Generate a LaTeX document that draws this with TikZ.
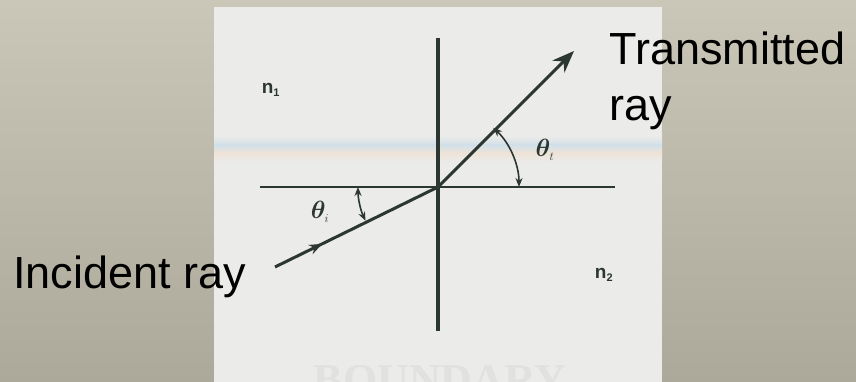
\documentclass[tikz,border=0pt]{standalone}
\usepackage{fontspec}
\setmainfont{Liberation Sans}
\newfontfamily\faintserif{Liberation Serif}
\usepackage{bm}
\usetikzlibrary{arrows.meta,decorations.markings,calc}
\definecolor{bgtop}{HTML}{CAC7B8}
\definecolor{bgbot}{HTML}{ACA99A}
\definecolor{paper}{HTML}{EBEBEA}
\definecolor{ink}{HTML}{2D3731}
\definecolor{faint}{HTML}{E1E1E0}
\definecolor{bandblue}{HTML}{D3E0E8}
\definecolor{bandwarm}{HTML}{EEE3D8}
\begin{document}
\begin{tikzpicture}[x=1pt,y=-1pt,
  axis/.style={draw=ink,line width=2.4pt},
  ray/.style={draw=ink,line width=3pt},
  anglearc/.style={draw=ink,line width=1.6pt,{Stealth[length=9pt,width=7pt]}-{Stealth[length=9pt,width=7pt]}},
  biglabel/.style={font=\fontsize{45}{56}\selectfont,text=black,inner sep=0pt},
  medium/.style={font=\fontsize{19}{22}\selectfont\bfseries,text=ink,inner sep=0pt},
  anglelabel/.style={font=\fontsize{24}{28}\selectfont,text=ink,inner sep=0pt}]
\useasboundingbox (0,0) rectangle (856,382);
\shade[top color=bgtop,bottom color=bgbot] (0,0) rectangle (856,382);
\fill[paper] (214,7) rectangle (662,382);
% scan band
\shade[top color=paper,bottom color=bandblue] (214,136) rectangle (662,145);
\shade[top color=bandblue,bottom color=bandwarm] (214,145) rectangle (662,153);
\shade[top color=bandwarm,bottom color=paper] (214,153) rectangle (662,162);
% faint bleed-through text
\begin{scope}
\clip (214,7) rectangle (662,382);
\node[font=\faintserif\fontsize{44}{44}\selectfont\bfseries,text=faint,anchor=base] (bnd) at (440,394) {BOUNDARY};
\end{scope}
% geometry
\coordinate (O) at (438,187);
\coordinate (vtop) at (438,38);
\coordinate (vbot) at (438,331);
\coordinate (hl) at (260,187);
\coordinate (hr) at (615,187);
\coordinate (inc) at (275,267);
\coordinate (tra) at (574,51);
\draw[axis,line width=3.6pt] (vtop) -- (vbot);
\draw[axis,line width=2.4pt] (hl) -- (hr);
\draw[ray,-{Stealth[length=22pt,width=17pt]}] (O) -- (tra);
\draw[ray,postaction={decorate},decoration={markings,mark=at position 0.29 with {\arrow{Stealth[length=13pt,width=10pt]}}}] (inc) -- (O);
% angle arcs
\draw[anglearc] ($(O)+(-47:81)$) arc[start angle=-47,end angle=0,radius=81];
\draw[anglearc] ($(O)+(180:80)$) arc[start angle=180,end angle=155,radius=80];
% labels
\node[anglelabel] (thi) at (320,212) {$\bm{\theta}_{\scriptscriptstyle i}$};
\node[anglelabel] (tht) at (545,150) {$\bm{\theta}_{\scriptscriptstyle t}$};
\node[medium] (n1) at (271,90) {n\textsubscript{\fontsize{11}{11}\selectfont 1}};
\node[medium] (n2) at (604,275) {n\textsubscript{\fontsize{11}{11}\selectfont 2}};
\node[biglabel,anchor=base west] (tlab) at (609,65) {Transmitted};
\node[biglabel,anchor=base west] (tlab2) at (609,121) {ray};
\node[biglabel,anchor=base west] (ilab) at (13,288) {Incident ray};
\end{tikzpicture}
\end{document}
